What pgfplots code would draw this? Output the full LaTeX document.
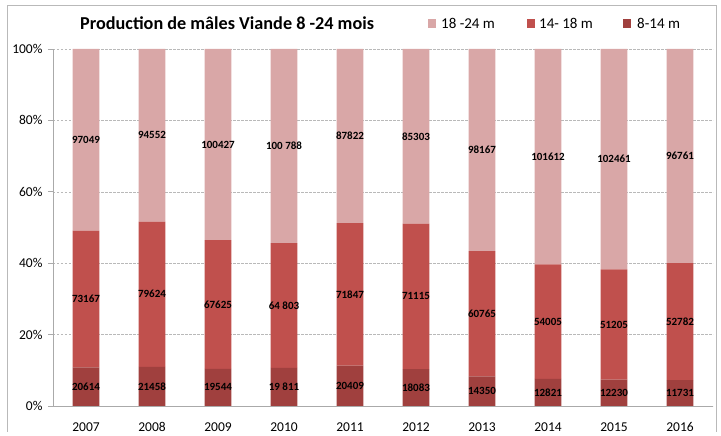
\documentclass[border=0pt]{standalone}
\usepackage{fontspec}
\setmainfont{Carlito}
\usepackage{pgfplots}
\usepackage{pgfplotstable}
\pgfplotsset{compat=1.18}
\definecolor{cTop}{RGB}{217,167,167}
\definecolor{cMid}{RGB}{192,80,77}
\definecolor{cBot}{RGB}{160,64,62}
\definecolor{gridc}{RGB}{185,185,185}
\definecolor{axc}{RGB}{170,170,170}
% p = share of the year's total (%), l = raw value
\pgfplotstableread[col sep=comma]{
x,year,p1,l1,p2,l2,p3,l3
0,2007,10.802,20614,38.341,73167,50.857,97049
1,2008,10.968,21458,40.701,79624,48.331,94552
2,2009,10.418,19544,36.048,67625,53.534,100427
3,2010,10.685,19 811,34.953,64 803,54.362,100 788
4,2011,11.333,20409,39.898,71847,48.769,87822
5,2012,10.363,18083,40.753,71115,48.884,85303
6,2013,8.281,14350,35.067,60765,56.652,98167
7,2014,7.612,12821,32.062,54005,60.326,101612
8,2015,7.372,12230,30.866,51205,61.762,102461
9,2016,7.274,11731,32.728,52782,59.998,96761
}\datatable
\begin{document}
\begin{tikzpicture}[x=1pt,y=1pt]
\useasboundingbox (0,0) rectangle (721,436);
\draw[gridc,line width=0.8pt] (7,4) -- (7,430.5) -- (716,430.5) -- (716,4);
\begin{axis}[
  at={(53pt,30pt)}, anchor=south west,
  scale only axis, width=660pt, height=357pt,
  ybar stacked, bar width=26.6pt,
  xmin=-0.5, xmax=9.5, ymin=0, ymax=100,
  xtick={0,...,9},
  xticklabels={2007,2008,2009,2010,2011,2012,2013,2014,2015,2016},
  extra x ticks={-0.5,0.5,1.5,...,9.5},
  extra x tick labels={},
  extra x tick style={major tick length=5pt, tick style={axc, line width=0.6pt}, tick pos=left, tick align=outside, grid=none},
  x tick style={draw=none},
  ytick={0,20,...,100},
  yticklabel={\pgfmathprintnumber{\tick}\%},
  ymajorgrids, grid style={gridc, dash pattern=on 2.5pt off 1.5pt, line width=0.5pt},
  y tick style={axc, line width=0.6pt},
  major tick length=5pt, tick align=outside, tick pos=left,
  axis x line*=bottom, axis y line*=left,
  axis line style={axc, line width=0.8pt},
  x axis line style={-}, y axis line style={-},
  tick label style={font=\fontsize{13.5}{15}\selectfont, text=black},
  /pgf/number format/assume math mode=true,
  xticklabel style={yshift=-9pt, text height=1.6ex, text depth=0.2ex},
  yticklabel style={xshift=-2pt},
  nodes near coords style={font=\bfseries\fontsize{11}{13}\selectfont, text=black, anchor=center},
  nodes near coords align=center,
  point meta=explicit symbolic,
  clip=false,
]
\addplot[fill=cBot, draw=none, nodes near coords={\pgfplotspointmeta}] table[x=x, y=p1, meta=l1] {\datatable};
\addplot[fill=cMid, draw=none, nodes near coords={\pgfplotspointmeta}] table[x=x, y=p2, meta=l2] {\datatable};
\addplot[fill=cTop, draw=none, nodes near coords={\pgfplotspointmeta}] table[x=x, y=p3, meta=l3] {\datatable};
\end{axis}
\node[anchor=west, inner sep=0pt, font=\bfseries\fontsize{18.2}{20}\selectfont] at (80,413) {Production de mâles Viande 8 -24 mois};
\fill[cTop] (428,408) rectangle (436,417);
\node[anchor=west, font=\fontsize{15}{17}\selectfont, inner sep=0pt] at (441,412.5) {18 -24 m};
\fill[cMid] (527,408) rectangle (535,417);
\node[anchor=west, font=\fontsize{15}{17}\selectfont, inner sep=0pt] at (539,412.5) {14- 18 m};
\fill[cBot] (623,408) rectangle (631,417);
\node[anchor=west, font=\fontsize{15}{17}\selectfont, inner sep=0pt] at (637,412.5) {8-14 m};
\end{tikzpicture}
\end{document}
